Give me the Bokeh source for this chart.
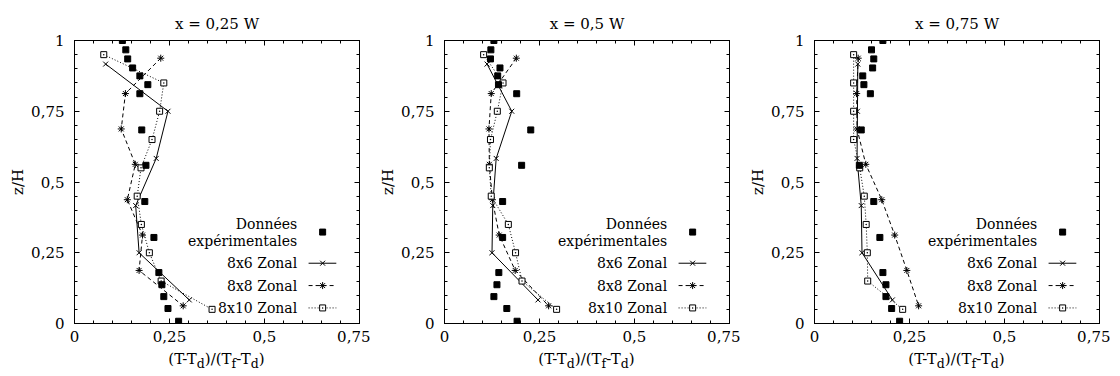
from bokeh.plotting import figure
from bokeh.layouts import row, column
from bokeh.models import Range1d, FixedTicker, LinearAxis, Div
from bokeh.core.properties import value
from bokeh.embed import file_html
from bokeh.resources import INLINE

FONT = "DejaVu Serif"

# ---------------- data ----------------
titles = ["x = 0,25 W", "x = 0,5 W", "x = 0,75 W"]

exp_z = [1.0, 0.967, 0.935, 0.903, 0.875, 0.844, 0.812, 0.684,
         0.559, 0.431, 0.304, 0.180, 0.137, 0.095, 0.053, 0.008]
exp_x1 = [0.126, 0.135, 0.140, 0.153, 0.172, 0.193, 0.172, 0.177,
          0.188, 0.185, 0.209, 0.222, 0.230, 0.235, 0.246, 0.274]
exp_x2 = [0.130, 0.122, 0.121, 0.146, 0.140, 0.142, 0.190, 0.227,
          0.203, 0.153, 0.153, 0.143, 0.138, 0.130, 0.164, 0.191]
exp_x3 = [0.180, 0.150, 0.156, 0.153, 0.127, 0.130, 0.147, 0.123,
          0.118, 0.156, 0.172, 0.180, 0.188, 0.188, 0.203, 0.224]

z6 = [0.9167, 0.75, 0.5833, 0.4167, 0.25, 0.0833]
z6_x1 = [0.082, 0.246, 0.215, 0.161, 0.170, 0.302]
z6_x2 = [0.112, 0.177, 0.136, 0.127, 0.125, 0.246]
z6_x3 = [0.114, 0.113, 0.112, 0.123, 0.125, 0.205]

z8 = [0.9375, 0.8125, 0.6875, 0.5625, 0.4375, 0.3125, 0.1875, 0.0625]
z8_x1 = [0.227, 0.134, 0.123, 0.160, 0.139, 0.179, 0.170, 0.286]
z8_x2 = [0.189, 0.123, 0.117, 0.118, 0.126, 0.144, 0.186, 0.274]
z8_x3 = [0.115, 0.111, 0.112, 0.135, 0.177, 0.211, 0.243, 0.274]

z10 = [0.95, 0.85, 0.75, 0.65, 0.55, 0.45, 0.35, 0.25, 0.15, 0.05]
z10_x1 = [0.077, 0.235, 0.224, 0.204, 0.175, 0.165, 0.176, 0.197, 0.228, 0.362]
z10_x2 = [0.103, 0.154, 0.139, 0.121, 0.118, 0.123, 0.168, 0.187, 0.204, 0.295]
z10_x3 = [0.103, 0.103, 0.103, 0.103, 0.119, 0.131, 0.136, 0.139, 0.140, 0.232]

x_ticks = [0, 0.25, 0.5, 0.75]
x_tick_labels = ["0", "0,25", "0,5", "0,75"]
y_ticks = [0, 0.25, 0.5, 0.75, 1]
y_tick_labels = ["0", "0,25", "0,5", "0,75", "1"]

legend_labels = ["Données", "expérimentales", "8x6 Zonal", "8x8 Zonal", "8x10 Zonal"]
x_label_html = "(T-T<sub>d</sub>)/(T<sub>f</sub>-T<sub>d</sub>)"
y_label = "z/H"


def style_axis(ax, ticks, labels, show_labels=True):
    ax.ticker = FixedTicker(ticks=ticks,
                            minor_ticks=[round(0.05 * i, 2) for i in range(int(ticks[-1] / 0.05) + 1)])
    ax.major_tick_in = 5
    ax.major_tick_out = 0
    ax.minor_tick_in = 3
    ax.minor_tick_out = 0
    ax.axis_line_color = "black"
    ax.major_tick_line_color = "black"
    ax.minor_tick_line_color = "black"
    if show_labels:
        ax.major_label_overrides = {t: l for t, l in zip(ticks, labels)}
        ax.major_label_text_font = FONT
        ax.major_label_text_font_size = "15px"
        ax.major_label_text_color = "black"
    else:
        ax.major_label_overrides = {t: "" for t in ticks}
        ax.major_label_text_font_size = "8px"
        ax.major_label_standoff = 0


def make_panel(title, ex_x, x6, x8, x10):
    p = figure(width=370, height=350, x_range=Range1d(0, 0.75), y_range=Range1d(0, 1),
               output_backend="svg", toolbar_location=None,
               min_border_left=74, min_border_right=11, min_border_top=40, min_border_bottom=27)
    p.background_fill_color = "white"
    p.border_fill_color = "white"
    p.outline_line_color = "black"
    p.grid.visible = False

    p.title.text = title
    p.title.align = "center"
    p.title.text_font = FONT
    p.title.text_font_size = "15px"
    p.title.text_font_style = "normal"
    p.title.text_color = "black"
    p.title.standoff = 16

    style_axis(p.xaxis[0], x_ticks, x_tick_labels)
    p.xaxis[0].major_label_standoff = 7
    style_axis(p.yaxis[0], y_ticks, y_tick_labels)
    p.yaxis[0].major_label_standoff = 10
    p.yaxis[0].axis_label = y_label
    p.yaxis[0].axis_label_text_font = FONT
    p.yaxis[0].axis_label_text_font_size = "15px"
    p.yaxis[0].axis_label_text_font_style = "normal"
    p.yaxis[0].axis_label_text_color = "black"
    p.yaxis[0].axis_label_standoff = 1

    ax_r = LinearAxis()
    style_axis(ax_r, y_ticks, y_tick_labels, show_labels=False)
    p.add_layout(ax_r, "right")
    ax_t = LinearAxis()
    style_axis(ax_t, x_ticks, x_tick_labels, show_labels=False)
    p.add_layout(ax_t, "above")

    # data
    p.line(x6, z6, line_color="black", line_width=1)
    p.scatter(x6, z6, marker="x", size=7, line_color="black", line_width=1)
    p.line(x8, z8, line_color="black", line_width=1, line_dash="4 3")
    p.scatter(x8, z8, marker="asterisk", size=7, line_color="black", line_width=1)
    p.line(x10, z10, line_color="black", line_width=1, line_dash="1 2")
    p.scatter(x10, z10, marker="square_dot", size=6, line_color="black",
              fill_color="white", line_width=1)
    p.scatter(ex_x, exp_z, marker="square", size=6, color="black")

    # legend (gnuplot style: text left, sample right)
    tx = 0.586
    ly = [0.353, 0.293, 0.213, 0.134, 0.055]
    p.text(x=[tx] * 5, y=ly, text=legend_labels, text_align="right", text_baseline="middle",
           text_font=value(FONT), text_font_size="14px", text_color="black")
    sx0, sx1, sxm = 0.616, 0.689, 0.653
    p.scatter([sxm], [0.323], marker="square", size=6, color="black")
    p.line([sx0, sx1], [ly[2]] * 2, line_color="black", line_width=1)
    p.scatter([sxm], [ly[2]], marker="x", size=7, line_color="black")
    p.line([sx0, sx1], [ly[3]] * 2, line_color="black", line_width=1, line_dash="4 3")
    p.scatter([sxm], [ly[3]], marker="asterisk", size=7, line_color="black")
    p.line([sx0, sx1], [ly[4]] * 2, line_color="black", line_width=1, line_dash="1 2")
    p.scatter([sxm], [ly[4]], marker="square_dot", size=6, line_color="black", fill_color="white")

    xl = Div(text=x_label_html, width=285, height=24, margin=(0, 11, 0, 74),
             styles={"font-family": "'DejaVu Serif'", "font-size": "15px",
                     "text-align": "center", "color": "black", "line-height": "18px",
                     "width": "285px"})
    return column(p, xl, spacing=0)


panels = [
    make_panel(titles[0], exp_x1, z6_x1, z8_x1, z10_x1),
    make_panel(titles[1], exp_x2, z6_x2, z8_x2, z10_x2),
    make_panel(titles[2], exp_x3, z6_x3, z8_x3, z10_x3),
]
layout = row(*panels, spacing=0)
open("out.html", "w").write(file_html(layout, INLINE))
